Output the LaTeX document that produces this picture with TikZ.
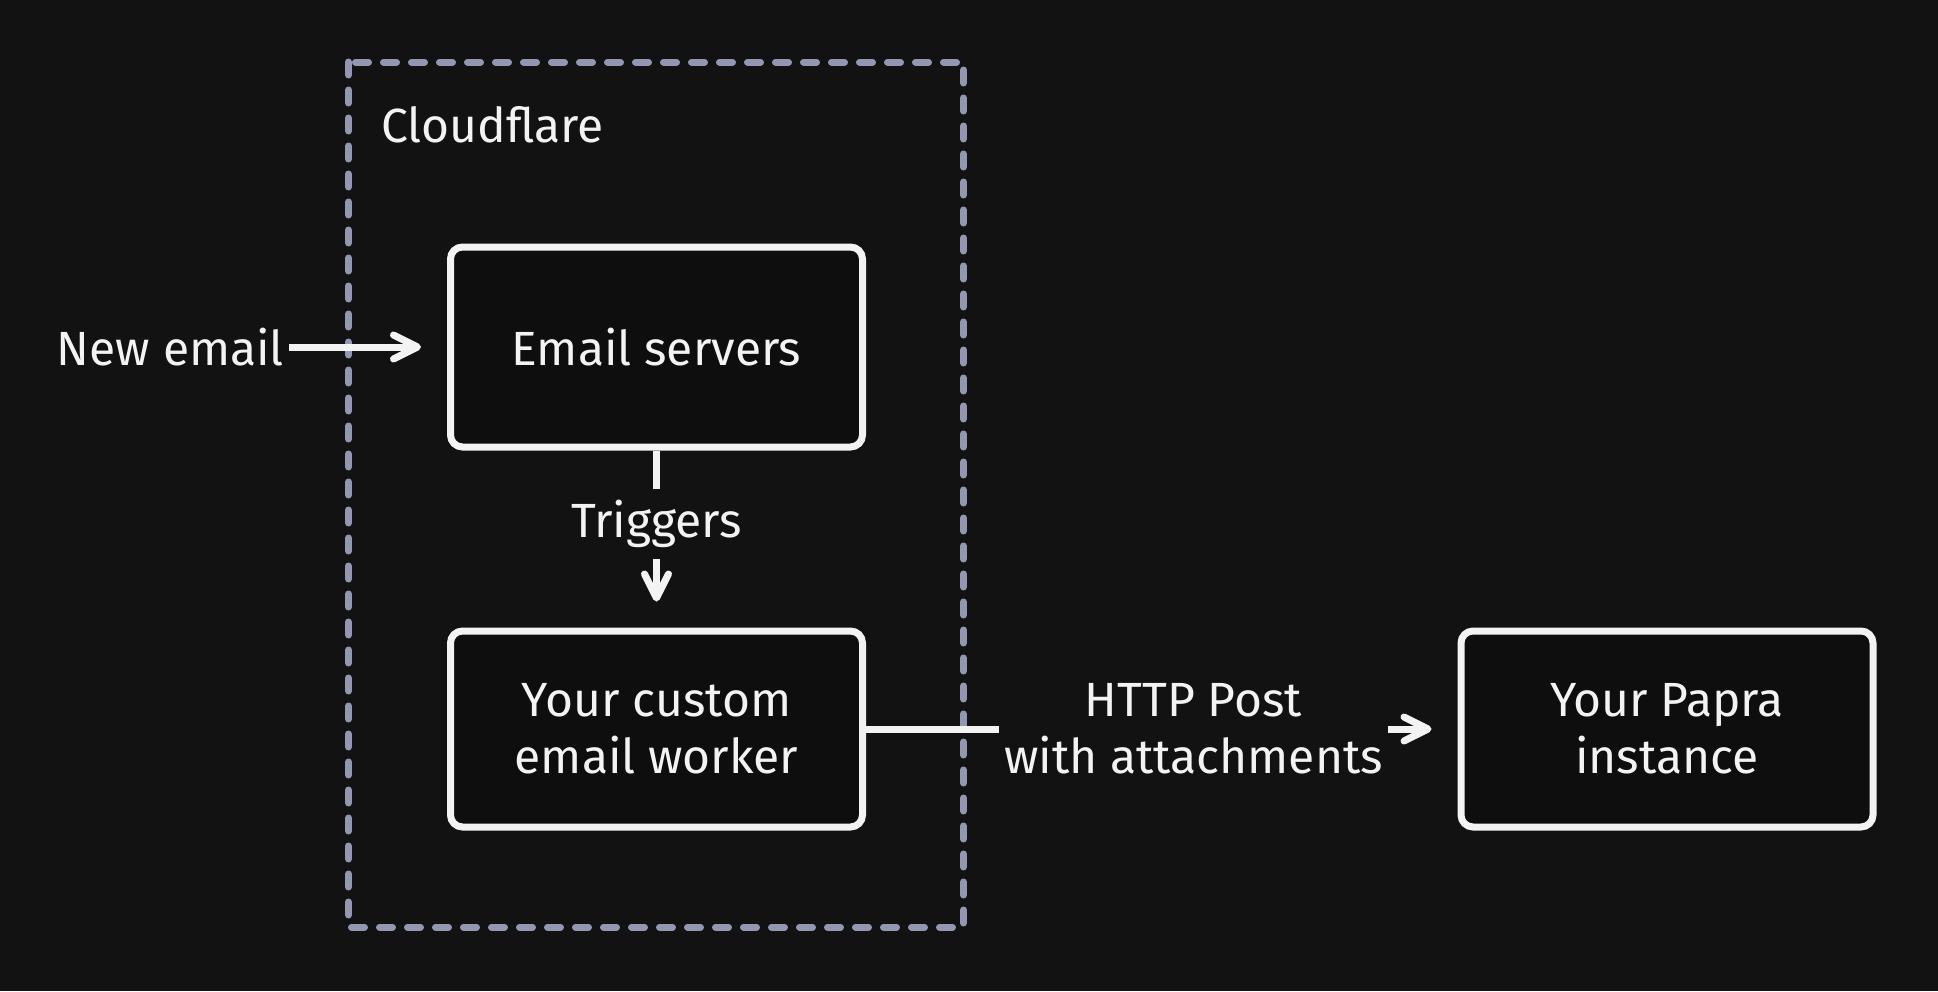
\documentclass[tikz,border=0pt]{standalone}
\usepackage{fontspec}
\setmainfont{Fira Sans}
\usepackage{tikz}
\usetikzlibrary{arrows.meta}
\definecolor{fondo}{RGB}{18,18,18}
\definecolor{fondoCaja}{RGB}{14,14,14}
\definecolor{blanco}{RGB}{243,243,243}
\definecolor{grisLavanda}{RGB}{148,151,178}
\tikzstyle{edge}  =[line width=3.5pt, draw=blanco]
\tikzstyle{flecha}=[edge, -{Straight Barb[length=12pt,width=12pt,round]},
                    shorten >=13pt]
\tikzstyle{caja}  =[rectangle, rounded corners=6pt, draw=blanco,
                    fill=fondoCaja, line width=3.5pt, minimum width=206pt,
                    minimum height=98pt, inner sep=0pt, text=blanco,
                    align=center, font={\fontsize{24}{28.5}\selectfont}]
\tikzstyle{texto} =[inner sep=0pt, text=blanco, align=center,
                    font={\fontsize{24}{28.5}\selectfont}]
\tikzstyle{marco} =[draw=grisLavanda, line width=3.5pt, line cap=round,
                    dash pattern=on 6.5pt off 7.5pt]

\begin{document}
\begin{tikzpicture}[x=0.5pt,y=-0.5pt]

    \fill[fondo] (0,0) rectangle (1938,991);
    \useasboundingbox (0,0) rectangle (1938,991);

    % Cloudflare
    \draw[marco] (348.5,62) rectangle (963.5,927);
    \draw (381,125) node (0) [texto,anchor=west] {Cloudflare};

    \draw (656.5,347) node (1) [caja,minimum height=100pt] {Email servers};
    \draw (656.5,729) node (2) [caja] {Your custom\\email worker};
    \draw (1667,729) node (3) [caja] {Your Papra\\instance};

    \draw (170.5,347) node (4) [texto,minimum width=118.5pt] {New email};
    \draw (656.5,524) node (5) [texto,minimum height=35pt] {Triggers};
    \draw (1193.5,729) node (6) [texto,minimum width=194.5pt] {HTTP Post\\with attachments};

    \foreach \i/\j in{1/5,2/6}
        \draw [edge] (\i) to (\j);

    \foreach \i/\j in{4/1,5/2,6/3}
        \draw [flecha] (\i) to (\j);

\end{tikzpicture}
\end{document}
